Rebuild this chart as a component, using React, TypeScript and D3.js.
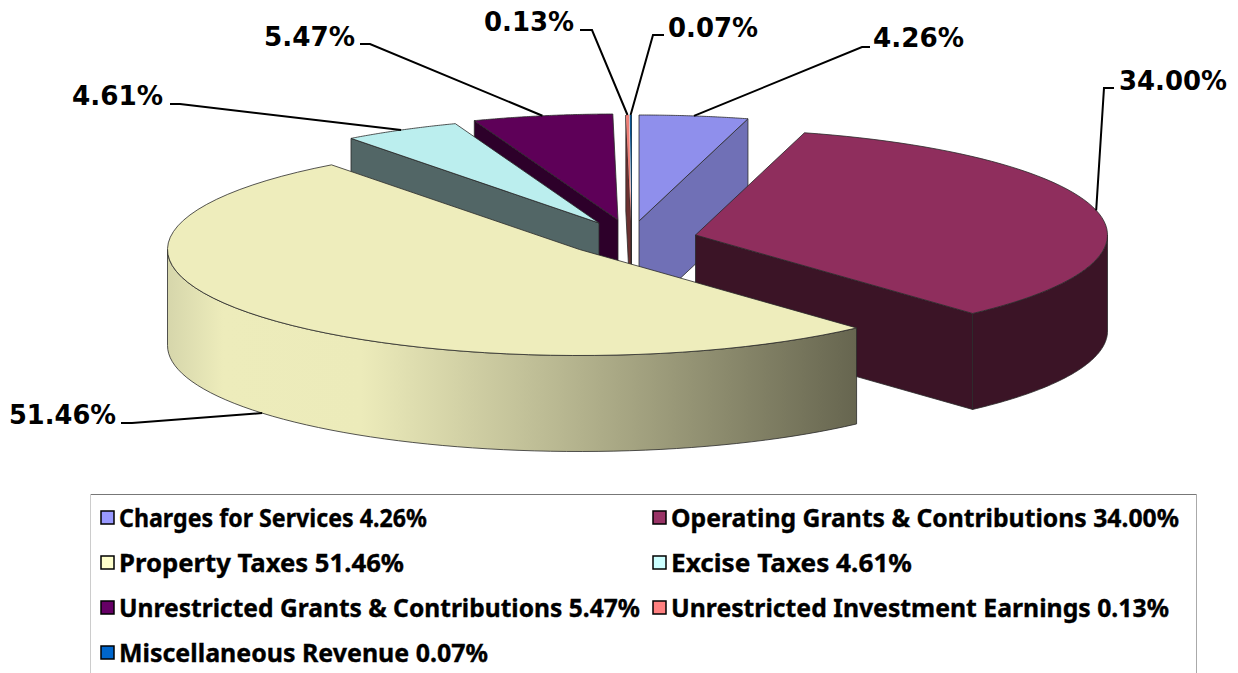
import React from 'react';
import * as d3 from 'd3';

const categories = [
  'Charges for Services',
  'Operating Grants & Contributions',
  'Property Taxes',
  'Excise Taxes',
  'Unrestricted Grants & Contributions',
  'Unrestricted Investment Earnings',
  'Miscellaneous Revenue',
];
const shares = [4.26, 34.0, 51.46, 4.61, 5.47, 0.13, 0.07];
const swatchColors = ['#9999ff', '#993366', '#ffffcc', '#ccffff', '#660066', '#ff8080', '#0066cc'];
const topColors = ['#8f8fec', '#8f2e5d', '#eeedbc', '#bbeeee', '#5e0058', '#ef7f77', '#0b5490'];
const wallColors = ['#7070b6', '#3b1426', '#edecbb', '#526666', '#2d002a', '#6b3030', '#101010'];

// layout of the exploded slices
const centers = [[639, 221], [695.5, 235], [579.5, 249.5], [599, 223], [618, 220], [631, 221], [631.5, 221]];
const RX = 412;
const RY = 106;
const DEPTH = 96;
const drawOrder = [4, 3, 5, 6, 0, 1, 2];

const labelElbows = [
  [[862, 47], [870, 47]],
  [[1104, 88], [1114, 88]],
  [[132, 423], [121, 423]],
  [[180, 104], [170, 104]],
  [[370, 44], [360, 44]],
  [[592, 30], [580, 30]],
  [[653, 35], [664, 35]],
];
const labelPos = [[873, 47, 'start', 91], [1119, 90, 'start', 108], [116, 424, 'end', 107], [163, 105, 'end', 91], [355, 46, 'end', 91], [574, 31, 'end', 90], [668, 37, 'start', 90]];
const legendWidths = [308, 508, 285, 241, 521, 498, 369];

const pie = d3.pie<number>().sort(null).startAngle(0).endAngle(2 * Math.PI).value((d) => d);
const arcs = pie(shares);

const pt = (i: number, a: number, drop = 0): [number, number] => [
  centers[i][0] + RX * Math.sin(a),
  centers[i][1] - RY * Math.cos(a) + drop,
];
const line = d3.line();
const sample = (i: number, a0: number, a1: number, drop = 0) =>
  d3.range(0, 61).map((k) => pt(i, a0 + ((a1 - a0) * k) / 60, drop));

const topFace = (i: number) => {
  const a = arcs[i];
  return line([centers[i] as [number, number], ...sample(i, a.startAngle, a.endAngle)]) + 'Z';
};
// flat wall hanging under the edge from the apex to the rim at angle a
const edgeWall = (i: number, a: number) => {
  const [cx, cy] = centers[i];
  const [x, y] = pt(i, a);
  return line([[cx, cy], [x, y], [x, y + DEPTH], [cx, cy + DEPTH]]) + 'Z';
};
const rimWall = (i: number, a0: number, a1: number) =>
  line([...sample(i, a0, a1), ...sample(i, a1, a0, DEPTH)]) + 'Z';

const wallsFor = (i: number) => {
  const a = arcs[i];
  const walls: string[] = [];
  if (i === 0) walls.push(edgeWall(i, a.endAngle));
  if (i === 1) {
    walls.push(edgeWall(i, a.endAngle));
    walls.push(rimWall(i, Math.PI / 2, a.endAngle));
  }
  if (i === 2) walls.push(rimWall(i, a.startAngle, (3 * Math.PI) / 2));
  if (i === 3 || i === 4 || i === 5) walls.push(edgeWall(i, a.startAngle));
  if (i === 6) walls.push(edgeWall(i, a.endAngle));
  return walls;
};

const legendColX = [101, 653];
const legendRowY = [518, 563, 608, 653];

export default function App() {
  return (
    <svg width={1238} height={673} style={{ position: 'absolute', left: 0, top: 0 }}>
      <defs>
        <linearGradient id="rimShade" gradientUnits="userSpaceOnUse" x1={168} x2={858} y1={0} y2={0}>
          <stop offset="0" stopColor="#d6d6ab" />
          <stop offset="0.08" stopColor="#edecbb" />
          <stop offset="0.28" stopColor="#ecebba" />
          <stop offset="0.55" stopColor="#bcbb94" />
          <stop offset="1" stopColor="#66654f" />
        </linearGradient>
      </defs>

      {drawOrder.map((i) => (
        <g key={i} stroke="#2a2a2a" strokeWidth={0.8} strokeLinejoin="round">
          {wallsFor(i).map((d, k) => (
            <path key={k} d={d} fill={i === 2 ? 'url(#rimShade)' : wallColors[i]} />
          ))}
          <path d={topFace(i)} fill={topColors[i]} stroke={i > 4 ? 'none' : '#2a2a2a'} />
        </g>
      ))}

      {arcs.map((a, i) => {
        const mid = (a.startAngle + a.endAngle) / 2;
        // the big slice's leader lands on the lower rim of its wall
        const anchor = i === 2 ? pt(i, mid, DEPTH) : pt(i, mid);
        return (
          <path
            key={i}
            d={line([anchor, ...(labelElbows[i] as [number, number][])]) ?? ''}
            fill="none"
            stroke="#000"
            strokeWidth={2}
          />
        );
      })}
      {shares.map((v, i) => {
        const [x, y, anchor, w] = labelPos[i] as [number, number, string, number];
        return (
          <text
            key={i}
            x={x}
            y={y}
            textAnchor={anchor as 'start' | 'end'}
            fontFamily='"DejaVu Sans", sans-serif'
            fontSize={27}
            fontWeight="bold"
            textLength={w}
            lengthAdjust="spacingAndGlyphs"
            fill="#000"
          >
            {`${v.toFixed(2)}%`}
          </text>
        );
      })}

      <line x1={90} x2={1196} y1={494.5} y2={494.5} stroke="#777" />
      <line x1={90.5} x2={90.5} y1={494} y2={673} stroke="#ccc" />
      <line x1={1196.5} x2={1196.5} y1={494} y2={673} stroke="#aaa" />
      {categories.map((c, i) => {
        const x = legendColX[i % 2];
        const y = legendRowY[Math.floor(i / 2)];
        return (
          <g key={c}>
            <rect x={x} y={y - 7} width={13} height={13} fill={swatchColors[i]} stroke="#000" strokeWidth={1.5} />
            <text
              x={x + 18}
              y={y + 8.5}
              fontFamily='"Noto Sans", sans-serif'
              fontSize={25}
              fontWeight="bold"
              stroke="#000"
              strokeWidth={0.35}
              textLength={legendWidths[i]}
              lengthAdjust="spacingAndGlyphs"
              fill="#000"
            >
              {`${c} ${shares[i].toFixed(2)}%`}
            </text>
          </g>
        );
      })}
    </svg>
  );
}
